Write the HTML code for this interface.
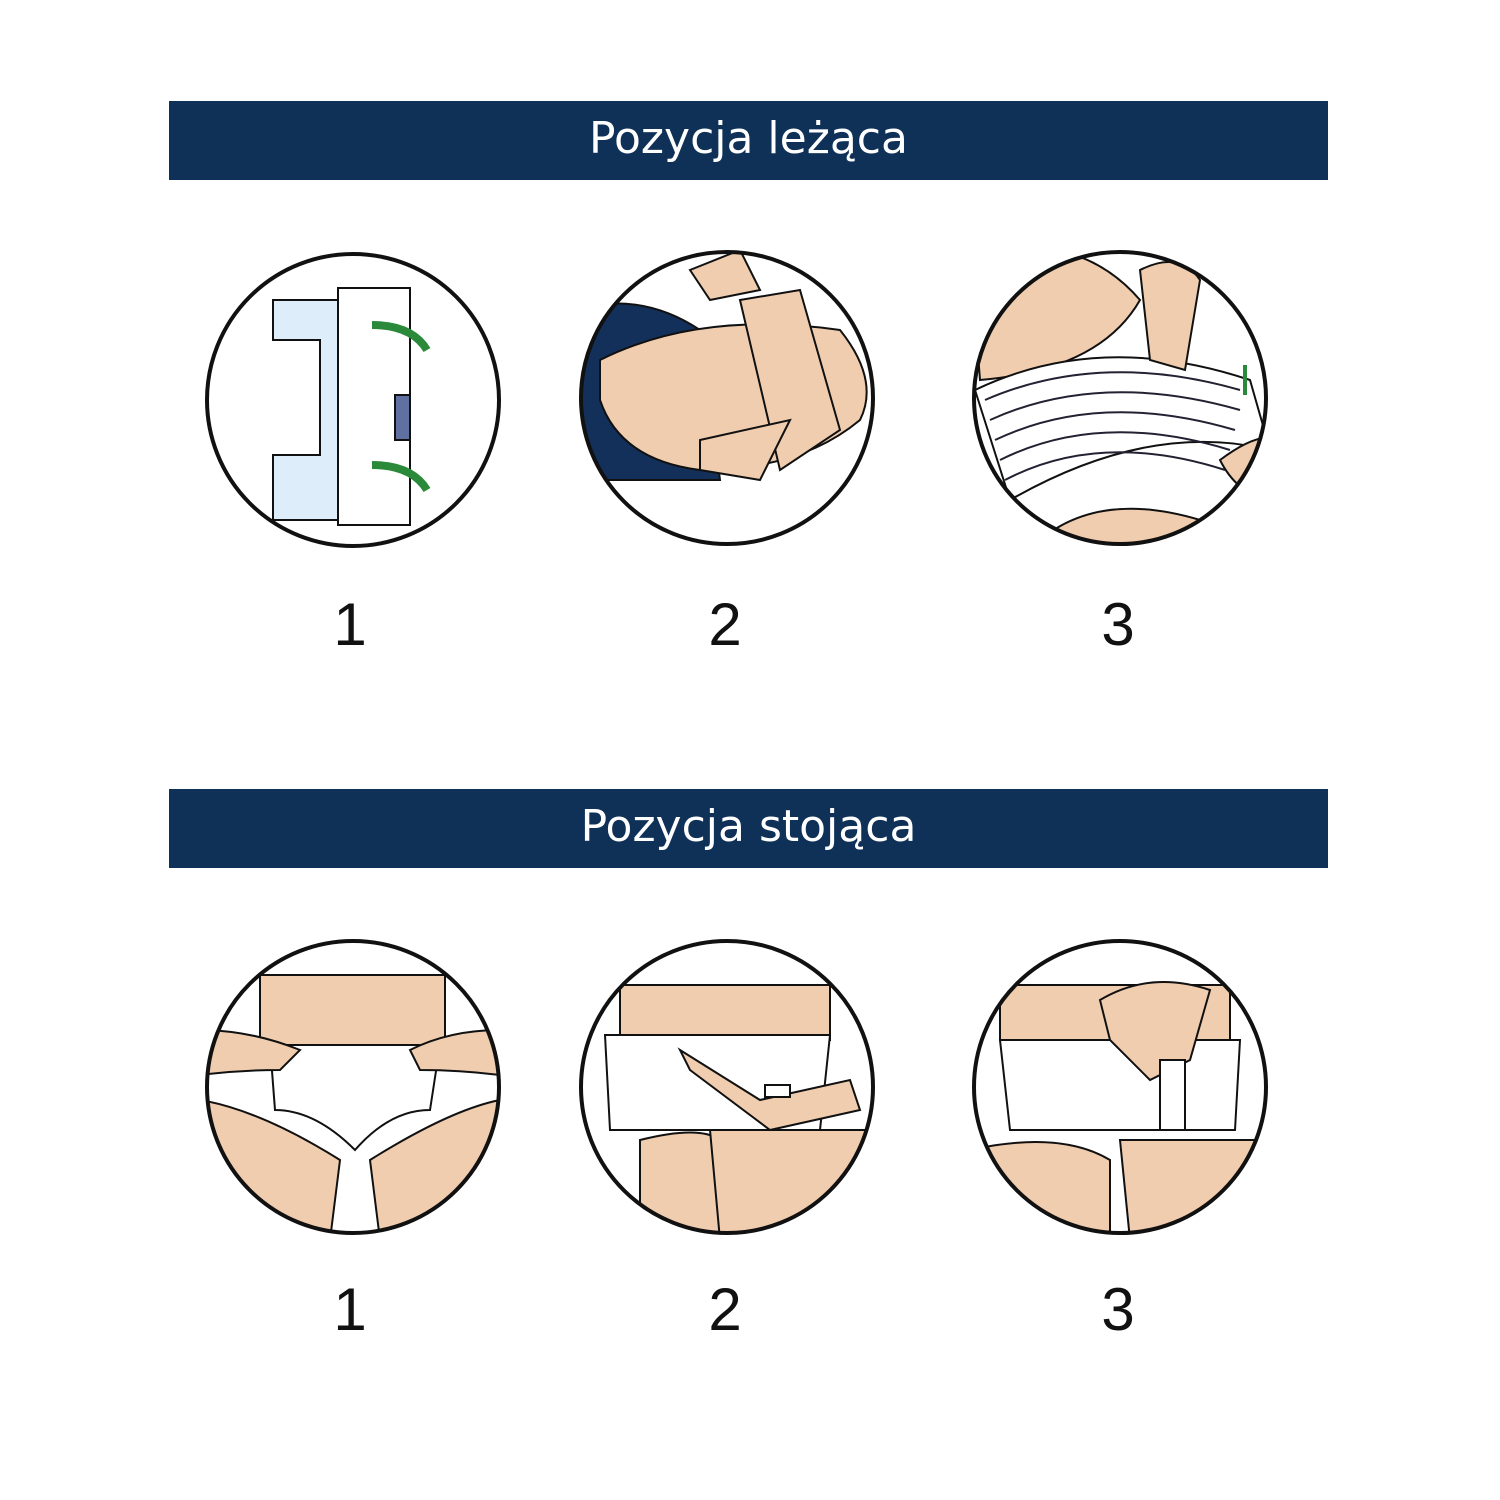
<!DOCTYPE html>
<html><head><meta charset="utf-8"><style>
html,body{margin:0;padding:0;background:#fff;}
body{width:1500px;height:1500px;position:relative;overflow:hidden;font-family:"Liberation Sans",sans-serif;}
.bar{position:absolute;left:169px;width:1159px;height:79px;background:#0f3158;color:#fff;text-align:center;font-size:44px;line-height:76px;font-family:"DejaVu Sans","Liberation Sans",sans-serif;}
.num{position:absolute;font-size:60px;color:#111;width:100px;text-align:center;}
svg{position:absolute;left:0;top:0;}
</style></head><body>
<div class="bar" style="top:101px">Pozycja leżąca</div>
<div class="bar" style="top:789px">Pozycja stojąca</div>
<div class="num" style="left:300px;top:590px">1</div>
<div class="num" style="left:675px;top:590px">2</div>
<div class="num" style="left:1068px;top:590px">3</div>
<div class="num" style="left:300px;top:1275px">1</div>
<div class="num" style="left:675px;top:1275px">2</div>
<div class="num" style="left:1068px;top:1275px">3</div>
<svg width="1500" height="1500" viewBox="0 0 1500 1500">
<defs>
<clipPath id="c1"><circle cx="353" cy="400" r="146"/></clipPath>
<clipPath id="c2"><circle cx="727" cy="398" r="146"/></clipPath>
<clipPath id="c3"><circle cx="1120" cy="398" r="146"/></clipPath>
<clipPath id="d1"><circle cx="353" cy="1087" r="146"/></clipPath>
<clipPath id="d2"><circle cx="727" cy="1087" r="146"/></clipPath>
<clipPath id="d3"><circle cx="1120" cy="1087" r="146"/></clipPath>
</defs>
<g stroke="#111" stroke-width="2">
<!-- 1 -->
<g clip-path="url(#c1)">
<path d="M273 300 H340 V520 H273 V455 H320 V340 H273Z" fill="#ddeefa"/>
<path d="M338 288 H410 V525 H338Z" fill="#fff"/>
<path d="M395 395 H410 V440 H395Z" fill="#6070a0"/>
<path d="M372 325 q40 0 55 25" stroke="#2a8a3a" stroke-width="8" fill="none"/>
<path d="M372 465 q40 0 55 25" stroke="#2a8a3a" stroke-width="8" fill="none"/>
</g>
<!-- 2 -->
<g clip-path="url(#c2)">
<rect x="570" y="240" width="320" height="320" fill="#fff" stroke="none"/>
<path d="M570 310 Q640 290 700 330 L720 480 L570 480Z" fill="#13305a"/>
<path d="M600 360 Q700 310 840 330 Q880 380 860 420 Q800 470 700 470 Q620 460 600 400Z" fill="#f1cdb0"/>
<path d="M740 300 L800 290 L840 430 L780 470Z" fill="#f1cdb0"/>
<path d="M700 440 L790 420 L760 480 L700 470Z" fill="#f1cdb0"/>
<path d="M690 270 L740 250 L760 290 L710 300Z" fill="#f1cdb0"/>
</g>
<!-- 3 -->
<g clip-path="url(#c3)">
<rect x="970" y="240" width="320" height="320" fill="#fff" stroke="none"/>
<path d="M970 250 Q1080 230 1140 300 Q1100 370 980 380Z" fill="#f1cdb0"/>
<path d="M975 390 Q1100 330 1250 380 L1270 450 Q1150 420 1010 500Z" fill="#fff"/>
<g fill="none" stroke="#223"><path d="M985 400 Q1100 350 1240 390"/><path d="M990 420 Q1100 370 1240 410"/><path d="M995 440 Q1100 390 1235 430"/><path d="M1000 460 Q1100 410 1230 450"/><path d="M1005 480 Q1100 430 1225 470"/></g>
<path d="M1140 270 Q1180 250 1200 280 L1185 370 L1150 360Z" fill="#f1cdb0"/>
<path d="M1040 540 Q1100 490 1200 520 L1200 560 L1040 560Z" fill="#f1cdb0"/>
<path d="M1220 460 Q1260 430 1280 440 L1280 500 Q1240 500 1220 460Z" fill="#f1cdb0"/>
<path d="M1245 365 V395" stroke="#2a8a3a" stroke-width="4"/>
</g>
<!-- row 2 -->
<g clip-path="url(#d1)">
<path d="M260 975 H445 V1045 H260Z" fill="#f1cdb0"/>
<path d="M270 1045 H440 L430 1110 Q390 1110 355 1150 Q315 1110 275 1110Z" fill="#fff"/>
<path d="M200 1100 Q260 1110 340 1160 L330 1240 L200 1240Z" fill="#f1cdb0"/>
<path d="M500 1100 Q450 1110 370 1160 L380 1240 L500 1240Z" fill="#f1cdb0"/>
<path d="M200 1030 Q250 1030 300 1050 L280 1070 Q240 1070 200 1075Z" fill="#f1cdb0"/>
<path d="M500 1030 Q450 1030 410 1050 L420 1070 Q460 1070 500 1075Z" fill="#f1cdb0"/>
</g>
<g clip-path="url(#d2)">
<path d="M620 985 H830 V1040 H620Z" fill="#f1cdb0"/>
<path d="M605 1035 H830 L820 1130 H610Z" fill="#fff"/>
<path d="M640 1140 Q700 1125 720 1140 L730 1240 L640 1240Z" fill="#f1cdb0"/>
<path d="M710 1130 H870 V1240 H720Z" fill="#f1cdb0"/>
<path d="M680 1050 L760 1100 L850 1080 L860 1110 L770 1130 L690 1070Z" fill="#f1cdb0"/>
<rect x="765" y="1085" width="25" height="12" fill="#fff"/>
</g>
<g clip-path="url(#d3)">
<path d="M1000 985 H1230 V1040 H1000Z" fill="#f1cdb0"/>
<path d="M1000 1040 H1240 L1235 1130 H1010Z" fill="#fff"/>
<path d="M970 1150 Q1060 1130 1110 1160 L1110 1240 L970 1240Z" fill="#f1cdb0"/>
<path d="M1120 1140 H1280 V1240 H1130Z" fill="#f1cdb0"/>
<path d="M1100 1000 Q1150 970 1210 990 L1190 1060 L1150 1080 L1110 1040Z" fill="#f1cdb0"/>
<rect x="1160" y="1060" width="25" height="70" fill="#fff"/>
</g>
<circle cx="353" cy="400" r="146" fill="none" stroke-width="4"/>
<circle cx="727" cy="398" r="146" fill="none" stroke-width="4"/>
<circle cx="1120" cy="398" r="146" fill="none" stroke-width="4"/>
<circle cx="353" cy="1087" r="146" fill="none" stroke-width="4"/>
<circle cx="727" cy="1087" r="146" fill="none" stroke-width="4"/>
<circle cx="1120" cy="1087" r="146" fill="none" stroke-width="4"/>
</g>
</svg>
</body></html>
